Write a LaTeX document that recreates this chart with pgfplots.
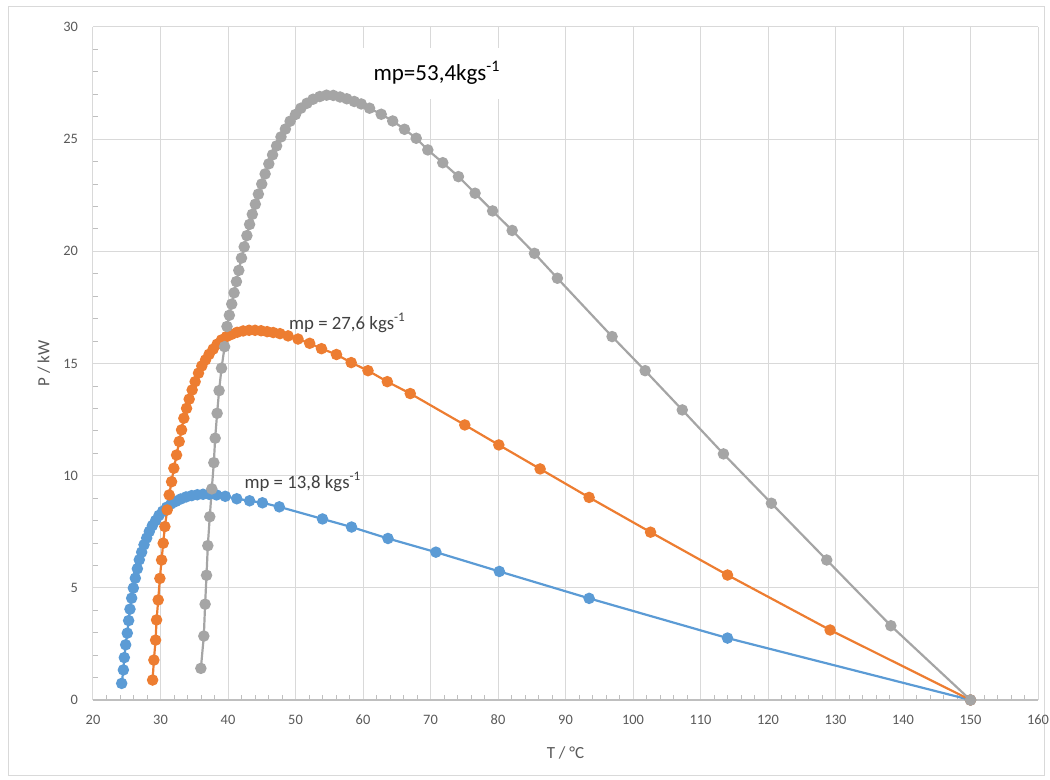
\documentclass[border=0pt]{standalone}
\usepackage{fontspec}
\setmainfont{Carlito}
\usepackage{pgfplots}
\pgfplotsset{compat=1.18}
\definecolor{sblue}{HTML}{5B9BD5}
\definecolor{sorange}{HTML}{ED7D31}
\definecolor{sgray}{HTML}{A5A5A5}
\definecolor{gridc}{HTML}{D9D9D9}
\definecolor{axisc}{HTML}{BFBFBF}
\definecolor{txtc}{HTML}{595959}
\definecolor{anntxt}{HTML}{404040}

\begin{document}
\begin{tikzpicture}
\path[use as bounding box] (0,0) rectangle (525pt,390pt);
\draw[gridc, line width=0.5pt] (4pt,2pt) rectangle (522pt,386.5pt);
\begin{axis}[
    at={(46.5pt,40pt)}, anchor=south west,
    scale only axis, width=472.5pt, height=336.5pt,
    xmin=20, xmax=160, ymin=0, ymax=30,
    xtick={20,30,...,160}, ytick={0,5,...,30},
    minor x tick num=4, minor y tick num=4,
    axis x line=bottom, axis y line=left,
    x axis line style={draw=axisc, line width=0.6pt, -},
    y axis line style={draw=gridc, line width=0.5pt, -},
    grid=major,
    major grid style={gridc, line width=0.5pt},
    major tick length=0pt, minor tick length=2.5pt, tick align=inside,
    minor tick style={axisc, line width=0.4pt},
    tick label style={font=\fontsize{7.2}{8}\selectfont, text=txtc},
    /pgf/number format/assume math mode=true,
    xticklabel style={yshift=-4pt},
    yticklabel style={xshift=-4pt},
    xlabel={T / °C}, ylabel={P / kW},
    label style={font=\fontsize{8.5}{10}\selectfont, text=txtc},
    xlabel style={at={(axis description cs:0.5,-0.0788)}, anchor=center},
    ylabel style={at={(axis description cs:-0.0519,0.5)}, anchor=center},
    clip=false,
]

% white box behind the large label
\fill[white] (axis cs:59.2,26.8) rectangle (axis cs:81.7,29.05);

% mp = 13,8 kg/s
\addplot[sblue, line width=1.1pt, mark=*, mark size=2.3pt, mark options={fill=sblue, draw=sblue}] coordinates {
(24.25,0.74) (24.5,1.34) (24.64,1.89) (24.84,2.46) (25.08,2.98) (25.28,3.54)
(25.48,4.05) (25.73,4.54) (25.98,4.99) (26.27,5.43) (26.57,5.85) (26.86,6.25)
(27.21,6.59) (27.56,6.92) (27.95,7.22) (28.34,7.51) (28.79,7.77) (29.28,8.00)
(29.78,8.23) (30.32,8.41) (30.91,8.59) (31.56,8.74) (32.25,8.85) (32.99,8.96)
(33.78,9.05) (34.62,9.11) (35.45,9.15) (36.3,9.17) (37.2,9.17) (38.3,9.14)
(39.6,9.08) (41.3,8.97) (43.2,8.88) (45.1,8.79) (47.6,8.61) (54.0,8.07)
(58.3,7.71) (63.7,7.20) (70.8,6.59) (80.2,5.73) (93.5,4.53) (114.0,2.76)
(150,0)
};

% mp = 27,6 kg/s
\addplot[sorange, line width=1.1pt, mark=*, mark size=2.3pt, mark options={fill=sorange, draw=sorange}] coordinates {
(28.83,0.89) (29.02,1.78) (29.27,2.67) (29.42,3.57) (29.66,4.46) (29.91,5.42)
(30.16,6.24) (30.4,6.99) (30.65,7.73) (30.99,8.47) (31.29,9.14) (31.64,9.73)
(31.98,10.33) (32.38,10.92) (32.77,11.52) (33.12,12.04) (33.46,12.56) (33.86,13.00)
(34.25,13.41) (34.69,13.82) (35.13,14.19) (35.63,14.57) (36.12,14.89) (36.67,15.16)
(37.2,15.41) (37.8,15.64) (38.39,15.86) (39.04,16.05) (39.78,16.20) (40.52,16.30)
(41.35,16.39) (42.24,16.45) (43.12,16.48) (44.01,16.48) (44.9,16.46) (45.8,16.42)
(46.7,16.38) (47.7,16.33) (48.9,16.23) (50.37,16.09) (52.1,15.90) (53.85,15.66)
(56.07,15.40) (58.25,15.04) (60.74,14.68) (63.6,14.19) (67.0,13.66) (75.08,12.26)
(80.12,11.37) (86.24,10.30) (93.5,9.03) (102.6,7.48) (114.0,5.57) (129.2,3.12)
(150,0)
};

% mp = 53,4 kg/s
\addplot[sgray, line width=1.1pt, mark=*, mark size=2.3pt, mark options={fill=sgray, draw=sgray}] coordinates {
(35.98,1.41) (36.42,2.85) (36.61,4.27) (36.82,5.56) (37.01,6.88) (37.3,8.17)
(37.6,9.41) (37.9,10.58) (38.1,11.67) (38.39,12.78) (38.68,13.79) (39.04,14.79)
(39.5,15.75) (39.85,16.65) (40.2,17.15) (40.55,17.65) (40.9,18.15) (41.25,18.65)
(41.6,19.15) (42.0,19.7) (42.4,20.2) (42.8,20.7) (43.2,21.2) (43.6,21.65)
(44.05,22.1) (44.5,22.55) (45.0,23.0) (45.5,23.45) (46.05,23.9) (46.6,24.3)
(47.2,24.7) (47.85,25.1) (48.5,25.45) (49.2,25.8) (50.0,26.1) (50.8,26.38)
(51.7,26.6) (52.6,26.78) (53.6,26.9) (54.6,26.96) (55.6,26.95) (56.6,26.88)
(57.6,26.8) (58.7,26.68) (59.74,26.57) (60.97,26.38) (62.7,26.11) (64.4,25.81)
(66.15,25.44) (67.88,25.04) (69.6,24.52) (71.82,23.95) (74.14,23.33) (76.6,22.59)
(79.2,21.8) (82.1,20.93) (85.4,19.91) (88.8,18.8) (96.9,16.2) (101.8,14.68)
(107.3,12.93) (113.4,10.97) (120.5,8.77) (128.7,6.24) (138.2,3.31) (150,0)
};

\node[anchor=west, inner sep=0pt, font=\fontsize{9.4}{11}\selectfont, text=anntxt] at (axis cs:42.4,9.72) {mp = 13,8 kgs\textsuperscript{-1}};
\node[anchor=west, inner sep=0pt, font=\fontsize{9.4}{11}\selectfont, text=anntxt] at (axis cs:49.0,16.81) {mp = 27,6 kgs\textsuperscript{-1}};
\node[anchor=west, inner sep=0pt, font=\fontsize{11.5}{13}\selectfont, text=black] at (axis cs:61.5,27.95) {mp=53,4kgs\textsuperscript{-1}};

\end{axis}
\end{tikzpicture}
\end{document}
